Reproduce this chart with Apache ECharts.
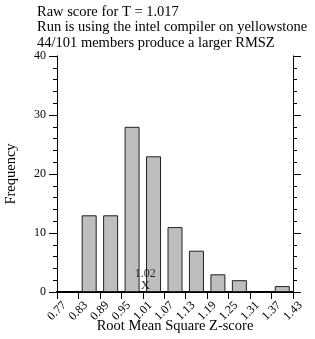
<!DOCTYPE html>
<html>
<head>
<meta charset="utf-8">
<script src="https://cdn.jsdelivr.net/npm/echarts@6/dist/echarts.min.js"></script>
<style>
  html, body { margin: 0; padding: 0; background: #fff; }
  #chart { width: 315px; height: 339px; }
</style>
</head>
<body>
<div id="chart"></div>
<script>
// bin edges and counts
var binEdges = [0.77, 0.83, 0.89, 0.95, 1.01, 1.07, 1.13, 1.19, 1.25, 1.31, 1.37, 1.43];
var counts = [0, 13, 13, 28, 23, 11, 7, 3, 2, 0, 1];
var tScore = 1.017;
var titleLines = [
    'Raw score for T = ' + tScore,
    'Run is using the intel compiler on yellowstone',
    '44/101 members produce a larger RMSZ'
];

var font = 'Liberation Serif';

// bars sit at bin centres
var barData = [];
for (var i = 0; i < counts.length; i++) {
    var mid = (binEdges[i] + binEdges[i + 1]) / 2;
    barData.push([mid, counts[i] === 0 ? '-' : counts[i]]);
}

var myChart = echarts.init(document.getElementById('chart'));

var yAxisBase = {
    type: 'value',
    min: 0,
    max: 40,
    interval: 10,
    splitLine: { show: false },
    axisLine: { show: true, lineStyle: { color: '#000', width: 1 } },
    axisTick: { show: true, length: 8, lineStyle: { color: '#000' } },
    minorTick: { show: true, splitNumber: 5, length: 4, lineStyle: { color: '#000' } }
};

var option = {
    animation: false,
    backgroundColor: '#fff',
    title: {
        text: titleLines.join('\n'),
        left: 37,
        top: 4,
        padding: 0,
        textStyle: { fontFamily: font, fontSize: 14.5, fontWeight: 'normal', color: '#000', lineHeight: 15.5 }
    },
    grid: { left: 57, right: 22, top: 56, bottom: 47, outerBoundsMode: 'none', containLabel: false },
    xAxis: [{
        type: 'value',
        min: binEdges[0],
        max: binEdges[binEdges.length - 1],
        interval: 0.06,
        name: 'Root Mean Square Z-score',
        nameLocation: 'middle',
        nameGap: 27,
        nameMoveOverlap: false,
        nameTextStyle: { fontFamily: font, fontSize: 14.5, color: '#000' },
        splitLine: { show: false },
        axisLine: { lineStyle: { color: '#000', width: 2 } },
        axisTick: { show: true, length: 7, lineStyle: { color: '#000' } },
        axisLabel: {
            rotate: 45,
            align: 'center',
            verticalAlign: 'middle',
            margin: 19,
            fontFamily: font,
            fontSize: 12,
            color: '#000',
            showMinLabel: true,
            showMaxLabel: true,
            formatter: function (v) { return v.toFixed(2); }
        }
    }, {
        type: 'value',
        position: 'top',
        min: binEdges[0],
        max: binEdges[binEdges.length - 1],
        axisLine: { show: true, lineStyle: { color: '#000', width: 1 } },
        axisTick: { show: false },
        axisLabel: { show: false },
        splitLine: { show: false }
    }],
    yAxis: [Object.assign({}, yAxisBase, {
        name: 'Frequency',
        nameLocation: 'middle',
        nameGap: 38,
        nameMoveOverlap: false,
        nameTextStyle: { fontFamily: font, fontSize: 14.5, color: '#000' },
        axisLabel: { margin: 11, fontFamily: font, fontSize: 12, color: '#000' }
    }), Object.assign({}, yAxisBase, {
        position: 'right',
        axisLabel: { show: false }
    })],
    series: [{
        type: 'bar',
        data: barData,
        barWidth: 15,
        itemStyle: { color: '#bebebe', borderColor: '#222', borderWidth: 1 }
    }, {
        type: 'scatter',
        data: [[tScore, 0]],
        symbolSize: 0,
        z: 5,
        label: {
            show: true,
            position: 'top',
            distance: 1,
            formatter: '{a|' + tScore.toFixed(2) + '}\n{b|X}',
            rich: {
                a: { fontFamily: font, fontSize: 12, lineHeight: 12, color: '#000' },
                b: { fontFamily: font, fontSize: 13, lineHeight: 11, color: '#000' }
            }
        }
    }]
};

myChart.setOption(option);
</script>
</body>
</html>
